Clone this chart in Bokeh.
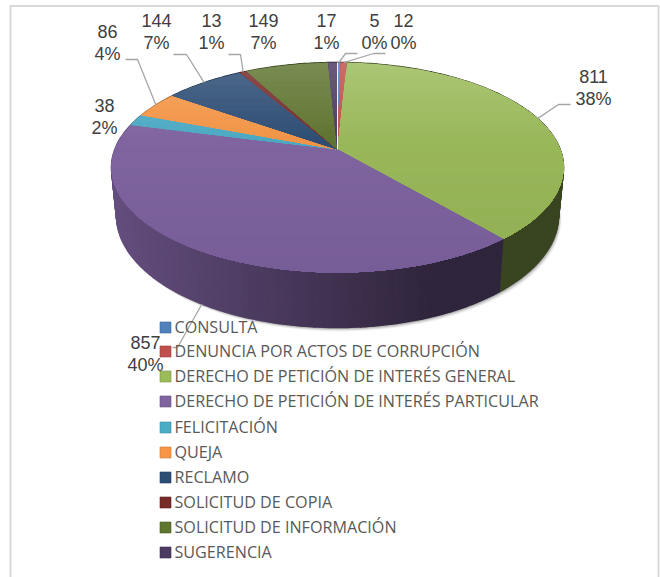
from math import sin, cos, radians, sqrt
from bokeh.plotting import figure
from bokeh.models import Range1d
from bokeh.core.properties import value
from bokeh.embed import file_html
from bokeh.resources import INLINE

# ---- data ----
CATEGORIES = ["CONSULTA", "DENUNCIA POR ACTOS DE CORRUPCIÓN",
              "DERECHO DE PETICIÓN DE INTERÉS GENERAL",
              "DERECHO DE PETICIÓN DE INTERÉS PARTICULAR",
              "FELICITACIÓN", "QUEJA", "RECLAMO", "SOLICITUD DE COPIA",
              "SOLICITUD DE INFORMACIÓN", "SUGERENCIA"]
VALUES = [5, 12, 811, 857, 38, 86, 144, 13, 149, 17]
PERCENTS = ["0%", "0%", "38%", "40%", "2%", "4%", "7%", "1%", "7%", "1%"]

# ---- style and layout ----
COLORS = [(79, 129, 189), (192, 80, 77), (155, 187, 89), (128, 100, 162), (75, 172, 198),
          (247, 150, 70), (44, 77, 117), (119, 44, 42), (95, 117, 48), (77, 59, 98)]
CX, CY, RX, RY, B = 337, 167, 226, 105, -0.171      # top face
BCX, BCY, BRX, BRY = 337, 215, 221, 112             # bottom rim
LABEL_X = [374, 403, 593, 145, 104, 107, 156, 211, 263, 326]
LABEL_Y = [20, 20, 76, 342, 105, 31, 20, 20, 20, 20]
LABEL_DY = 22
LEADERS = [((345, 53), (357, 53)), ((373, 53), (385, 53)), ((558, 104), (570, 104)),
           ((177, 347), (172, 347)), None, ((137, 59), (125, 59)), ((186, 54), (173, 54)),
           ((240, 54), (228, 54)), None, None]
LEGEND_Y = [326, 350, 375, 400, 426, 451, 476, 501, 526, 551]


def rim(theta, cx=CX, cy=CY, rx=RX, ry=RY):
    u, v = sin(radians(theta)), -cos(radians(theta))
    d = 1 + B * v
    return cx + rx * u * sqrt(1 - B * B) / d, cy + ry * (v + B) / d


def hexc(c):
    return "#%02x%02x%02x" % tuple(int(max(0, min(255, round(a)))) for a in c)


def clip_below(poly, y0):
    out = []
    for i, (x1, y1) in enumerate(poly):
        x2, y2 = poly[(i + 1) % len(poly)]
        if y1 >= y0:
            out.append((x1, y1))
        if (y1 >= y0) != (y2 >= y0):
            t = (y0 - y1) / (y2 - y1)
            out.append((x1 + t * (x2 - x1), y0))
    return out


def shade(c, y):
    t = max(0, min(1, (y - 62) / 210))
    light = 0.13 * max(0, 1 - t / 0.35) + 0.03 * max(0, 1 - t)
    dark = 0.07 * t
    return tuple((a + (255 - a) * light) * (1 - dark) for a in c)


def wall_factor(x):
    return 0.78 + (0.37 - 0.78) * max(0, min(1, (x - 112) / 320))


total = sum(VALUES)
edges = [0]
for v in VALUES:
    edges.append(edges[-1] + v / total * 360)

p = figure(width=660, height=577, output_backend="svg", toolbar_location=None,
           x_range=Range1d(0, 660), y_range=Range1d(577, 0), x_axis_type=None, y_axis_type=None,
           min_border=0, outline_line_color=None, background_fill_color="white",
           border_fill_color="white")
p.grid.visible = False

# frame
p.line([10, 10, 658, 658], [577, 5.5, 5.5, 577], line_color="#d9d9d9", line_width=2)

# soft shadow below the body
outline = [rim(a, BCX, BCY, BRX, BRY) for a in range(0, 360, 3)]
for off, alpha in [(5, 0.05), (4, 0.07), (3, 0.1), (2, 0.14), (1, 0.2)]:
    p.patch([x + off * 0.6 for x, y in outline], [y + off * 0.8 for x, y in outline],
            fill_color="#222222", fill_alpha=alpha, line_color=None)

# side wall
wx, wy, wc = [], [], []
for i, c in enumerate(COLORS):
    a0, a1 = edges[i], edges[i + 1]
    n = max(1, int((a1 - a0) / 1))
    for k in range(n):
        s0, s1 = a0 + (a1 - a0) * k / n, a0 + (a1 - a0) * (k + 1) / n
        q = [rim(s0), rim(s1), rim(s1, BCX, BCY, BRX, BRY), rim(s0, BCX, BCY, BRX, BRY)]
        wx.append([pt[0] for pt in q])
        wy.append([pt[1] for pt in q])
        f = wall_factor(sum(pt[0] for pt in q) / 4)
        wc.append(hexc(tuple(a * f for a in c)))
p.patches(wx, wy, fill_color=wc, line_color=wc, line_width=1.5)

# top face: each slice is painted in stacked bands for the vertical shading
tx, ty, tc = [], [], []
for i, c in enumerate(COLORS):
    a0, a1 = edges[i], edges[i + 1]
    n = max(2, int((a1 - a0) / 1.5))
    poly = [(CX, CY + RY * B)] + [rim(a0 + (a1 - a0) * k / n) for k in range(n + 1)]
    y0 = min(pt[1] for pt in poly)
    y1 = max(pt[1] for pt in poly)
    steps = max(2, int((y1 - y0) / 6))
    for k in range(steps):
        yb = y0 + (y1 - y0) * k / steps
        part = clip_below(poly, yb)
        if len(part) >= 3:
            tx.append([pt[0] for pt in part])
            ty.append([pt[1] for pt in part])
            tc.append(hexc(shade(c, yb)))
p.patches(tx, ty, fill_color=tc, line_color=None)

# hairline between the last and first slices
p.line([CX, rim(0)[0]], [CY + RY * B, rim(0)[1]], line_color="#f2f2f2", line_width=1)

# leaders
for i, leg in enumerate(LEADERS):
    if leg is None:
        continue
    mid = (edges[i] + edges[i + 1]) / 2
    if CATEGORIES[i].endswith("PARTICULAR"):
        start = rim(mid, BCX, BCY, BRX, BRY)
    else:
        start = rim(mid)
    p.line([start[0], leg[0][0], leg[1][0]], [start[1], leg[0][1], leg[1][1]],
           line_color="#a6a6a6", line_width=1.3)

# data labels
font = value("Liberation Sans")
p.text(LABEL_X, LABEL_Y, text=[str(v) for v in VALUES], text_font=font, text_font_size="18px",
       text_color="#404040", text_align="center", text_baseline="middle")
p.text(LABEL_X, [y + LABEL_DY for y in LABEL_Y], text=PERCENTS, text_font=font, text_font_size="18px",
       text_color="#404040", text_align="center", text_baseline="middle")

# legend
p.rect([165] * len(COLORS), [y + 1 for y in LEGEND_Y], width=11, height=11,
       fill_color=[hexc(c) for c in COLORS], line_color=[hexc(tuple(a * 0.8 for a in c)) for c in COLORS],
       line_width=0.6)
p.text([174] * len(CATEGORIES), LEGEND_Y, text=CATEGORIES, text_font=value("Open Sans"),
       text_font_size="16.15px", text_color="#595959", text_align="left", text_baseline="middle")

open("out.html", "w").write(file_html(p, INLINE))
